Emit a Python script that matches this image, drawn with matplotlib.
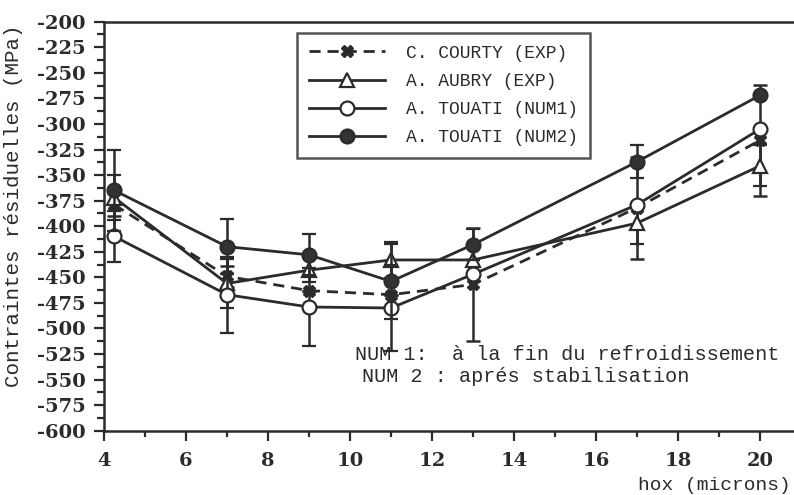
import matplotlib
matplotlib.use("Agg")
import matplotlib.pyplot as plt
from matplotlib.ticker import MultipleLocator
from matplotlib.lines import Line2D

# Data
x = [4.25, 7, 9, 11, 13, 17, 20]
courty = [-379, -449, -463, -467, -457, -382, -316]
aubry = [-372, -456, -443, -433, -433, -397, -341]
num1 = [-410, -467, -479, -480, -447, -379, -305]
num2 = [-365, -420, -428, -454, -418, -337, -272]

courty_err = [11, 10, 0, 0, 55, 50, 54]
aubry_err = [22, 24, 12, 18, 0, 20, 20]
num1_err = [25, 37, 38, 42, 0, 0, 0]
num2_err = [40, 27, 20, 37, 15, 16, 0]

labels = ["C. COURTY (EXP)", "A. AUBRY (EXP)", "A. TOUATI (NUM1)", "A. TOUATI (NUM2)"]
yticks = list(range(-600, -199, 25))
xticks = [4, 6, 8, 10, 12, 14, 16, 18, 20]

INK = "#2b2b2b"
MONO = "Liberation Mono"
SERIF = "DejaVu Serif"

plt.rcParams["axes.unicode_minus"] = False
plt.rcParams["font.family"] = SERIF
plt.rcParams["font.weight"] = "bold"

fig = plt.figure(figsize=(7.94, 4.95), dpi=100)
ax = fig.add_axes([104/794, 1 - 430.7/495, 1 - 104/794, (430.7 - 21.7)/495])

lw = 2.0
common = dict(color=INK, lw=lw, capsize=5, elinewidth=1.8, capthick=1.8)
ax.errorbar(x, courty, yerr=courty_err, ls=(0, (4, 2.5)), marker="X", ms=8,
            mfc=INK, mec=INK, zorder=3, **common)
ax.errorbar(x, aubry, yerr=aubry_err, ls="-", marker="^", ms=10,
            mfc="white", mec=INK, mew=1.6, zorder=4, **common)
ax.errorbar(x, num1, yerr=num1_err, ls="-", marker="o", ms=10,
            mfc="white", mec=INK, mew=1.6, zorder=5, **common)
ax.errorbar(x, num2, yerr=num2_err, ls="-", marker="o", ms=10,
            mfc="#333333", mec=INK, mew=1.6, zorder=6, **common)

ax.set_xlim(4, 4 + (794 - 104) / 41)
ax.set_ylim(-600, -200)
ax.set_yticks(yticks)
ax.set_yticklabels([str(v) for v in yticks], fontfamily=SERIF, fontweight="bold",
                   fontsize=14, color=INK)
ax.set_xticks(xticks)
ax.set_xticklabels([str(v) for v in xticks], fontfamily=SERIF, fontweight="bold",
                   fontsize=14, color=INK)
ax.yaxis.set_minor_locator(MultipleLocator(12.5))
ax.xaxis.set_minor_locator(MultipleLocator(1))
ax.tick_params(axis="both", which="both", direction="out", color=INK, width=1.6)
ax.tick_params(axis="y", which="major", length=7, pad=6)
ax.tick_params(axis="y", which="minor", length=5)
ax.tick_params(axis="x", which="major", length=7, pad=8)
ax.tick_params(axis="x", which="minor", length=4)

for s in ["left", "bottom", "top"]:
    ax.spines[s].set_linewidth(1.8)
    ax.spines[s].set_color(INK)
ax.spines["right"].set_visible(False)

fig.text(14/794, 1 - 206/495, "Contraintes résiduelles (MPa)", rotation=90,
         ha="center", va="center", family=MONO, fontweight="normal", fontsize=15, color=INK)
fig.text(791/794, 1 - 485/495, "hox (microns)", ha="right", va="center",
         family=MONO, fontweight="normal", fontsize=14, color=INK)
fig.text(355/794, 1 - 355/495, "NUM 1:  à la fin du refroidissement", ha="left",
         va="center", family=MONO, fontweight="normal", fontsize=14.5, color=INK)
fig.text(362/794, 1 - 376/495, "NUM 2 : aprés stabilisation", ha="left",
         va="center", family=MONO, fontweight="normal", fontsize=14.5, color=INK)

handles = [
    Line2D([], [], color=INK, lw=lw, ls=(0, (4, 2.5)), marker="X", ms=8, mfc=INK, mec=INK),
    Line2D([], [], color=INK, lw=lw, marker="^", ms=10, mfc="white", mec=INK, mew=1.6),
    Line2D([], [], color=INK, lw=lw, marker="o", ms=10, mfc="white", mec=INK, mew=1.6),
    Line2D([], [], color=INK, lw=lw, marker="o", ms=10, mfc="#333333", mec=INK, mew=1.6),
]
leg = ax.legend(handles, labels, loc="upper left", bbox_to_anchor=((297 - 104) / 690, 1 - (33 - 21.7) / 409),
                prop={"family": MONO, "size": 13, "weight": "normal"}, frameon=True, fancybox=False,
                edgecolor=INK, handlelength=4.2, handletextpad=1.2, labelspacing=0.62,
                borderpad=0.65, borderaxespad=0)
leg.get_frame().set_linewidth(1.8)
for t in leg.get_texts():
    t.set_color(INK)

fig.savefig("out.png", dpi=100)
